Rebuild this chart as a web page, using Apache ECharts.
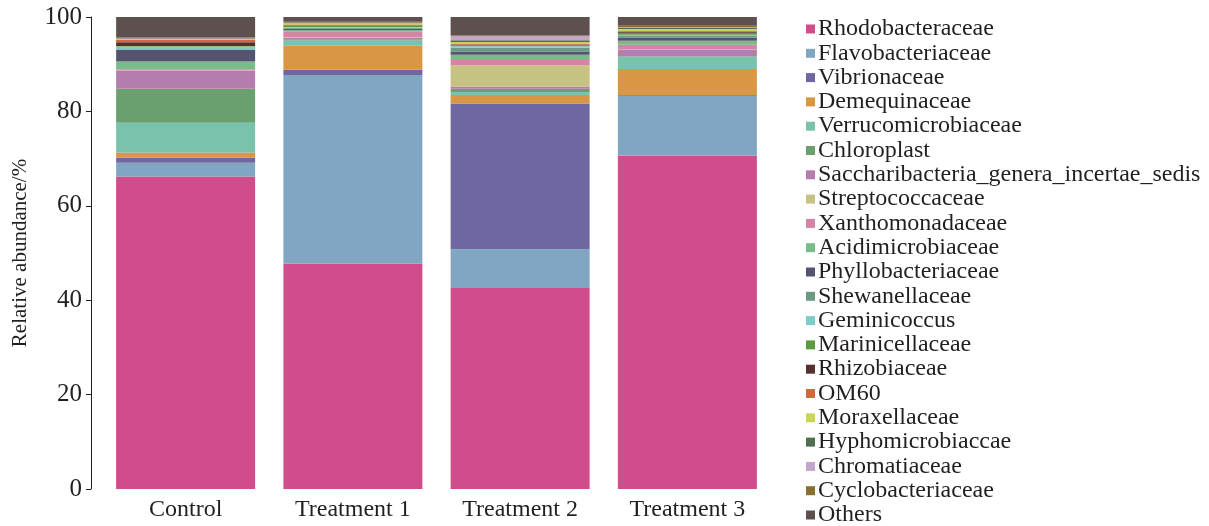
<!DOCTYPE html>
<html>
<head>
<meta charset="utf-8">
<script src="https://cdn.jsdelivr.net/npm/echarts@6/dist/echarts.min.js"></script>
<style>
  html, body { margin: 0; padding: 0; background: #fff; }
  #chart { width: 1209px; height: 526px; }
</style>
</head>
<body>
<div id="chart"></div>
<script>
// groups on the x axis
const groups = ["Control", "Treatment 1", "Treatment 2", "Treatment 3"];

// families, bottom to top of each bar
const families = [
  "Rhodobacteraceae", "Flavobacteriaceae", "Vibrionaceae", "Demequinaceae",
  "Verrucomicrobiaceae", "Chloroplast", "Saccharibacteria_genera_incertae_sedis",
  "Streptococcaceae", "Xanthomonadaceae", "Acidimicrobiaceae", "Phyllobacteriaceae",
  "Shewanellaceae", "Geminicoccus", "Marinicellaceae", "Rhizobiaceae", "OM60",
  "Moraxellaceae", "Hyphomicrobiaccae", "Chromatiaceae", "Cyclobacteriaceae", "Others"
];

const colors = [
  "#cf4d8a", "#80a6c2", "#6f68a0", "#d99644", "#79c2ab", "#6aa070", "#b47dad",
  "#c6c281", "#d584a8", "#78bc89", "#555470", "#6a9a85", "#7ccccc", "#5e9a3e",
  "#56302b", "#cc6a3c", "#c8d45a", "#4f6f4d", "#c3a4cc", "#8a7030", "#5f5050"
];

// relative abundance (%) per group, same order as families
const control    = [66.2, 2.9, 1.1, 1.1, 6.3, 7.2, 3.8, 0.05, 0.3, 1.6, 2.5, 0.1, 0.6, 0.1, 0.8, 0.5, 0.2, 0.1, 0.05, 0.2, 4.3];
const treatment1 = [47.7, 40.0, 1.1, 5.1, 1.1, 0.3, 0.3, 0.1, 1.3, 0.2, 0.3, 0.2, 0.2, 0.2, 0.1, 0.2, 0.2, 0.1, 0.1, 0.2, 1.2];
const treatment2 = [42.6, 8.2, 30.9, 1.8, 0.6, 0.7, 0.4, 4.6, 1.1, 1.1, 0.7, 0.8, 0.3, 0.2, 0.1, 0.3, 0.3, 0.4, 0.8, 0.2, 3.9];
const treatment3 = [70.6, 12.7, 0.2, 5.5, 2.6, 0.1, 1.3, 0.2, 0.9, 0.85, 0.7, 0.3, 0.3, 0.4, 0.2, 0.2, 0.4, 0.2, 0.2, 0.3, 1.85];

const yTicks = [0, 20, 40, 60, 80, 100];

const table = [control, treatment1, treatment2, treatment3];
const font = "'Liberation Serif', 'Times New Roman', serif";

const chart = echarts.init(document.getElementById("chart"));

const option = {
  animation: false,
  color: colors,
  grid: { left: 102, right: 438, top: 17, bottom: 37, outerBoundsMode: "none" },
  legend: {
    orient: "vertical",
    left: 801,
    top: 12,
    height: 520,
    icon: "rect",
    itemWidth: 9,
    itemHeight: 9,
    itemGap: 0.3,
    textStyle: { fontFamily: font, fontSize: 24, color: "#231f20", lineHeight: 24, padding: [0, 0, 0, -2] },
    data: families
  },
  xAxis: {
    type: "category",
    data: groups,
    axisLine: { show: false },
    axisTick: { show: false },
    axisLabel: { fontFamily: font, fontSize: 24, color: "#231f20", margin: 9 }
  },
  yAxis: {
    type: "value",
    min: yTicks[0],
    max: yTicks[yTicks.length - 1],
    interval: 20,
    offset: 11,
    name: "Relative abundance/%",
    nameLocation: "middle",
    nameGap: 60,
    nameTextStyle: { fontFamily: font, fontSize: 21, color: "#231f20" },
    axisLine: { show: true, lineStyle: { color: "#231f20", width: 1 } },
    axisTick: { show: true, length: 5, lineStyle: { color: "#231f20" } },
    axisLabel: { fontFamily: font, fontSize: 25, color: "#231f20", margin: 9 },
    splitLine: { show: false }
  },
  series: families.map((name, i) => ({
    name: name,
    type: "bar",
    stack: "total",
    barWidth: 139,
    data: table.map(row => row[i])
  }))
};

chart.setOption(option);
</script>
</body>
</html>
